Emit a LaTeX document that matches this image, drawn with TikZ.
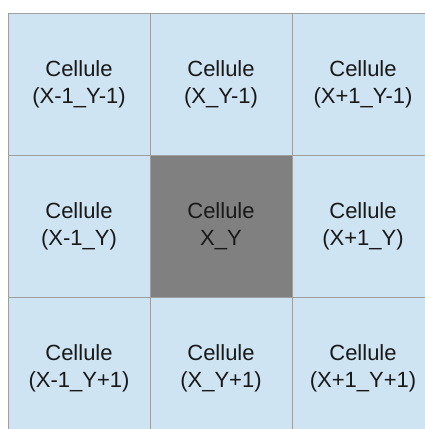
\documentclass[tikz,border=0pt]{standalone}
\usepackage{fontspec}
\setmainfont{Liberation Sans}

\definecolor{bleuclair}{HTML}{CFE4F3}
\definecolor{grisfonce}{HTML}{808080}
\definecolor{grisligne}{HTML}{9E9E9E}

\tikzset{
    cellule/.style={draw=grisligne, line width=1pt, fill=bleuclair,
        minimum width=142pt, minimum height=142pt, inner sep=0pt, outer sep=0pt,
        align=center, font=\fontsize{22}{27}\selectfont, text=black!90},
    centre/.style={cellule, fill=grisfonce}
}

\begin{document}
\begin{tikzpicture}[x=1pt, y=-1pt]
    % Cadre de l'image (la grille deborde a droite et en bas)
    \clip (0,0) rectangle (425,429);
    \fill[white] (0,0) rectangle (425,429);

    % Premiere ligne
    \node[cellule] (nw) at (79,84) {Cellule\\(X-1\_Y-1)};
    \node[cellule] (n)  at (221,84) {Cellule\\(X\_Y-1)};
    \node[cellule] (ne) at (363,84) {Cellule\\(X+1\_Y-1)};

    % Deuxieme ligne
    \node[cellule] (w)  at (79,226) {Cellule\\(X-1\_Y)};
    \node[centre]  (c)  at (221,226) {Cellule\\X\_Y};
    \node[cellule] (e)  at (363,226) {Cellule\\(X+1\_Y)};

    % Troisieme ligne
    \node[cellule] (sw) at (79,368) {Cellule\\(X-1\_Y+1)};
    \node[cellule] (s)  at (221,368) {Cellule\\(X\_Y+1)};
    \node[cellule] (se) at (363,368) {Cellule\\(X+1\_Y+1)};
\end{tikzpicture}
\end{document}
